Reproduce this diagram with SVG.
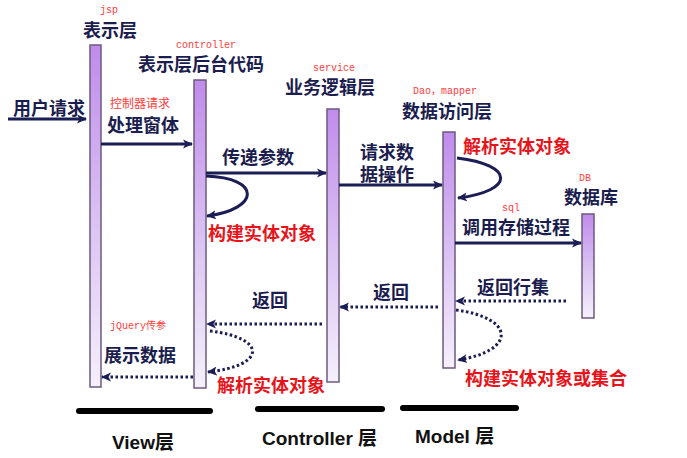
<svg xmlns="http://www.w3.org/2000/svg" width="687" height="458" viewBox="0 0 687 458">
<defs>
<linearGradient id="barg" x1="0" y1="0" x2="0" y2="1">
<stop offset="0" stop-color="#c08ceb"/>
<stop offset="0.55" stop-color="#dcc6f3"/>
<stop offset="1" stop-color="#f5f0fb"/>
</linearGradient>
<marker id="ah" viewBox="0 0 10 10" refX="9" refY="5" markerWidth="10" markerHeight="10" markerUnits="userSpaceOnUse" orient="auto">
<path d="M0,0.5 L10,5 L0,9.5 L2.5,5 z" fill="#1b1d55"/>
</marker>
<style>
.bar{fill:url(#barg);stroke:#6d5a80;stroke-width:1.5}
.h{font-family:"Noto Sans CJK SC","Liberation Sans",sans-serif;font-weight:700;font-size:18px;fill:#1b1d4e}
.r{font-family:"Noto Sans CJK SC","Liberation Sans",sans-serif;font-weight:700;font-size:18px;fill:#e8141c}
.a{font-family:"Liberation Mono","Noto Sans CJK SC",monospace;font-size:10px;fill:#ff3b3b}
.a2{font-family:"Noto Sans CJK SC",sans-serif;font-size:12px;fill:#ff3b3b}
.s{fill:none;stroke:#1b1d55;stroke-width:3;marker-end:url(#ah)}
.d{fill:none;stroke:#1b1d55;stroke-width:3;stroke-dasharray:2.5 2.5;marker-end:url(#ah)}
.b{stroke:#000;stroke-width:6;stroke-linecap:round}
.f{font-family:"Liberation Sans",Arial,"Noto Sans CJK SC",sans-serif;font-weight:700;font-size:19px;fill:#111}
</style>
</defs>
<rect width="687" height="458" fill="#fff"/>

<g id="jsp">
<rect class="bar" x="90" y="45" width="11" height="342"/>
<text class="a" x="100" y="13">jsp</text>
<text class="h" x="83" y="36.5">表示层</text>
</g>
<g id="controller">
<rect class="bar" x="194" y="80" width="12" height="308"/>
<text class="a" x="176" y="47.5">controller</text>
<text class="h" x="138" y="71">表示层后台代码</text>
</g>
<g id="service">
<rect class="bar" x="327" y="109" width="12" height="273"/>
<text class="a" x="313" y="70.5">service</text>
<text class="h" x="285" y="94">业务逻辑层</text>
</g>
<g id="dao">
<rect class="bar" x="443" y="132" width="12" height="236"/>
<text class="a" x="413" y="93.5">Dao，mapper</text>
<text class="h" x="402" y="118">数据访问层</text>
</g>
<g id="db">
<rect class="bar" x="582" y="214" width="12" height="104"/>
<text class="a" x="579" y="180.5">DB</text>
<text class="h" x="564" y="204">数据库</text>
</g>

<g id="connectors">
<path class="s" d="M8,119 H86"/>
<text class="h" x="13" y="114.5">用户请求</text>

<path class="s" d="M101,144 H192"/>
<text class="a2" x="110" y="108">控制器请求</text>
<text class="h" x="107" y="131.5">处理窗体</text>

<path class="s" d="M206,173 H326"/>
<text class="h" x="222" y="163.5">传递参数</text>
<path class="s" d="M206,176 C262,178 260,209 207,216"/>
<text class="r" x="208" y="239.5">构建实体对象</text>

<path class="s" d="M339,185 H442"/>
<text class="h" x="360" y="158.5"><tspan x="360" y="158.5">请求数</tspan><tspan x="360" y="180.5">据操作</tspan></text>
<path class="s" d="M457,158 C515,165 515,191 458,198"/>
<text class="r" x="463" y="152.5">解析实体对象</text>

<path class="s" d="M455,243 H581"/>
<text class="a" x="502" y="210.5">sql</text>
<text class="h" x="462" y="234">调用存储过程</text>

<path class="d" d="M566,301 H456"/>
<text class="h" x="477" y="293.5">返回行集</text>
<path class="d" d="M456,310 C516,318 516,351 458,360"/>
<text class="r" x="465" y="384.5">构建实体对象或集合</text>

<path class="d" d="M438,307 H340"/>
<text class="h" x="373" y="298.5">返回</text>

<path class="d" d="M322,324 H207"/>
<text class="h" x="252" y="306.5">返回</text>
<text class="a" x="110" y="328.5">jQuery传参</text>
<path class="d" d="M210,331 C268,338 266,366 208,372"/>
<text class="r" x="217" y="391.5">解析实体对象</text>

<path class="d" d="M193,377 H102"/>
<text class="h" x="104" y="361.5">展示数据</text>
</g>

<g id="layers">
<line class="b" x1="79" y1="411" x2="210" y2="411"/>
<line class="b" x1="258" y1="409" x2="382" y2="409"/>
<line class="b" x1="403" y1="408" x2="516" y2="408"/>
<text class="f" x="112" y="449">View层</text>
<text class="f" x="262" y="445">Controller 层</text>
<text class="f" x="415" y="443">Model 层</text>
</g>
</svg>
